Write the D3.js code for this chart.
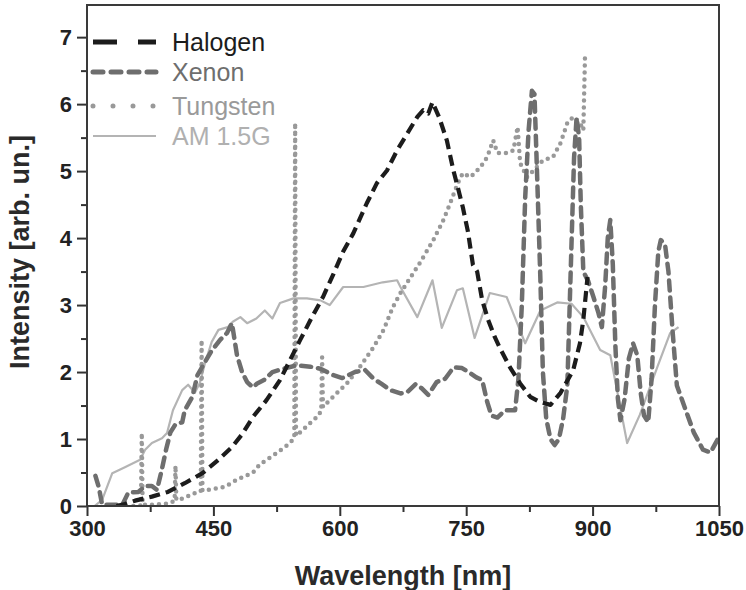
<html lang="en">
<head>
<meta charset="utf-8">
<title>Lamp spectra</title>
<style>
  body { margin: 0; background: #fff; }
  .tick text { font-family: "Liberation Sans", Arial, sans-serif; font-weight: bold; font-size: 22px; fill: #222; }
  .axis-title { font-family: "Liberation Sans", Arial, sans-serif; font-weight: bold; font-size: 27px; fill: #2a2a2a; }
  .legend text { font-family: "Liberation Sans", Arial, sans-serif; font-size: 25px; }
</style>
<script src="https://d3js.org/d3.v7.min.js"></script>
</head>
<body>
<svg id="chart" width="746" height="590"></svg>
<script>

// [wavelength nm, intensity]
var halogen = [[335,0],[345,0.03],[357,0.08],[377,0.14],[396,0.21],[416,0.34],[437,0.49],[456,0.69],[472,0.88],[484,1.07],[497,1.33],[513,1.58],[529,1.88],[541,2.18],[553,2.48],[567,2.82],[580,3.12],[592,3.45],[604,3.8],[616,4.07],[632,4.52],[644,4.82],[656,5.01],[668,5.31],[680,5.56],[692,5.81],[699,5.91],[705,5.86],[710,6.03],[718,5.8],[727,5.46],[735,5.0],[740,4.76],[746,4.46],[752,4.1],[758,3.6],[763,3.5],[769,3.07],[776,2.78],[784,2.52],[790,2.36],[802,2.07],[814,1.83],[826,1.63],[838,1.55],[850,1.51],[858,1.63],[862,1.69],[877,2.03],[885,2.43],[889,2.78],[894,3.42]];

var xenon = [[310,0.45],[314,0.28],[318,0.02],[342,0.02],[349,0.2],[361,0.21],[369,0.3],[377,0.3],[383,0.24],[388,0.5],[394,0.85],[399,1.1],[405,1.22],[413,1.25],[416,1.43],[425,1.63],[431,1.95],[440,2.15],[447,2.3],[458,2.48],[466,2.58],[472,2.73],[478,2.25],[484,2.0],[490,1.85],[497,1.77],[502,1.83],[510,1.88],[520,2.0],[533,2.05],[549,2.1],[565,2.08],[577,2.05],[591,1.96],[603,1.91],[618,2.0],[630,2.03],[640,1.9],[650,1.82],[660,1.73],[672,1.68],[680,1.7],[690,1.82],[697,1.76],[705,1.66],[715,1.85],[725,1.9],[735,2.07],[745,2.06],[755,1.98],[762,1.92],[769,1.88],[775,1.55],[780,1.35],[787,1.32],[796,1.43],[808,1.43],[812,1.9],[816,3.0],[820,4.6],[824,5.6],[828,6.2],[831,6.15],[834,5.0],[838,3.4],[841,2.0],[845,1.3],[850,1.0],[855,0.91],[860,1.0],[865,1.3],[870,1.8],[874,3.5],[878,5.2],[881,5.8],[884,5.5],[886,4.5],[889,3.5],[895,3.35],[901,3.12],[907,2.88],[911,2.67],[915,3.3],[918,4.0],[921,4.27],[924,3.6],[927,2.4],[930,1.6],[933,1.28],[938,1.6],[943,2.2],[948,2.43],[953,2.25],[957,1.7],[961,1.35],[966,1.25],[970,1.9],[974,3.0],[978,3.8],[981,3.97],[986,3.9],[990,3.5],[995,2.6],[1000,1.8],[1010,1.45],[1020,1.1],[1031,0.84],[1040,0.8],[1050,1.03]];

var tungsten = [[355,0],[364,0.01],[365,1.09],[366,0.02],[380,0.02],[398,0.04],[404,0.08],[405,0.6],[406,0.09],[416,0.12],[425,0.18],[435,0.22],[436,2.48],[437,0.23],[449,0.25],[464,0.29],[479,0.4],[497,0.5],[505,0.62],[525,0.79],[541,0.94],[546,1.02],[547,5.72],[548,1.05],[553,1.1],[565,1.24],[573,1.33],[578,1.42],[579,2.22],[580,1.48],[592,1.63],[609,1.84],[624,2.08],[640,2.37],[652,2.63],[663,2.97],[672,3.18],[695,3.63],[711,3.97],[723,4.27],[731,4.52],[740,4.82],[746,4.97],[755,4.91],[767,5.06],[775,5.21],[782,5.46],[787,5.27],[799,5.27],[806,5.31],[811,5.66],[814,5.12],[822,4.91],[830,5.01],[841,5.16],[853,5.21],[862,5.42],[870,5.72],[877,5.81],[885,5.72],[889,5.61],[891,6.73]];

var am15g = [[300,0],[309,0],[318,0.09],[330,0.49],[345,0.58],[363,0.69],[369,0.84],[377,0.94],[389,1.01],[395,1.09],[402,1.43],[413,1.73],[420,1.81],[428,1.69],[434,1.84],[440,2.13],[448,2.45],[456,2.63],[467,2.67],[473,2.75],[482,2.82],[490,2.73],[501,2.8],[511,2.92],[520,2.8],[529,3.03],[545,3.1],[561,3.1],[577,3.07],[588,3.0],[604,3.27],[628,3.27],[651,3.34],[668,3.37],[672,3.27],[692,2.82],[710,3.37],[721,2.66],[739,3.22],[746,3.25],[760,2.51],[778,3.18],[798,3.12],[820,2.43],[838,2.92],[858,3.04],[875,3.02],[889,2.82],[909,2.33],[921,2.25],[941,0.94],[956,1.36],[977,2.08],[992,2.58],[1002,2.67]];

var xTicks = [300, 450, 600, 750, 900, 1050];
var yTicks = [0, 1, 2, 3, 4, 5, 6, 7];
var seriesNames = ["Halogen", "Xenon", "Tungsten", "AM 1.5G"];

// plot box
var margin = {top: 5, right: 27, bottom: 84, left: 87},
    width = 746 - margin.left - margin.right,
    height = 590 - margin.top - margin.bottom;

var svg = d3.select("#chart")
  .append("g")
  .attr("transform", "translate(" + margin.left + "," + margin.top + ")");

var x = d3.scaleLinear().domain([300, 1050]).range([0, width]);
var y = d3.scaleLinear().domain([0, 7.48]).range([height, 0]);

svg.append("clipPath").attr("id", "clip")
  .append("rect").attr("width", width).attr("height", height);

// minor ticks first, majors on top
svg.append("g")
  .attr("transform", "translate(0," + height + ")")
  .call(d3.axisBottom(x).tickValues(d3.range(375, 1050, 150)).tickSize(6).tickFormat(""))
  .call(g => g.select(".domain").remove());
svg.append("g")
  .call(d3.axisLeft(y).tickValues(d3.range(0.5, 7.5, 1)).tickSize(6).tickFormat(""))
  .call(g => g.select(".domain").remove());

svg.append("g")
  .attr("transform", "translate(0," + height + ")")
  .call(d3.axisBottom(x).tickValues(xTicks).tickSize(10).tickPadding(4).tickFormat(d3.format("d")))
  .call(g => g.select(".domain").remove());
svg.append("g")
  .call(d3.axisLeft(y).tickValues(yTicks).tickSize(10).tickPadding(5))
  .call(g => g.select(".domain").remove());

svg.selectAll(".tick line").attr("stroke", "#333").attr("stroke-width", 2);

var styles = [
  {data: halogen,  color: "#1c1c1c", width: 4.2, dash: "11,6",  cap: "butt",  legendDash: "24,21", text: "#1c1c1c"},
  {data: xenon,    color: "#6e6e6e", width: 4.5, dash: "10,7",  cap: "round", legendDash: "10,8",  text: "#6e6e6e"},
  {data: tungsten, color: "#999999", width: 4.5, dash: "0,7",   cap: "round", legendDash: "0,20",  text: "#9a9a9a"},
  {data: am15g,    color: "#b4b4b4", width: 2.2, dash: null,    cap: "butt",  legendDash: null,    text: "#b0b0b0"}
];

var line = d3.line()
  .x(function(d) { return x(d[0]); })
  .y(function(d) { return y(d[1]); });

// draw AM first so the lamps sit on top, halogen last
var plotOrder = [3, 2, 1, 0];
var lines = svg.append("g").attr("clip-path", "url(#clip)");
plotOrder.forEach(function(i) {
  var s = styles[i];
  lines.append("path")
    .datum(s.data)
    .attr("fill", "none")
    .attr("stroke", s.color)
    .attr("stroke-width", s.width)
    .attr("stroke-linecap", s.cap)
    .attr("stroke-linejoin", "round")
    .attr("stroke-dasharray", s.dash)
    .attr("d", line);
});

// frame
svg.append("rect")
  .attr("width", width).attr("height", height)
  .attr("fill", "none").attr("stroke", "#3a3a3a").attr("stroke-width", 2);

// legend
var legend = svg.append("g").attr("class", "legend");
var rowY = [37, 67, 101, 131];
seriesNames.forEach(function(name, i) {
  var s = styles[i];
  legend.append("line")
    .attr("x1", 6).attr("x2", 69)
    .attr("y1", rowY[i]).attr("y2", rowY[i])
    .attr("stroke", s.color)
    .attr("stroke-width", i == 3 ? 2.2 : 5)
    .attr("stroke-linecap", s.cap)
    .attr("stroke-dasharray", s.legendDash);
  legend.append("text")
    .attr("x", 85).attr("y", rowY[i] + 9)
    .attr("fill", s.text)
    .text(name);
});

// axis titles
svg.append("text")
  .attr("class", "axis-title")
  .attr("x", width / 2 + 0).attr("y", height + 79)
  .attr("text-anchor", "middle")
  .text("Wavelength [nm]");

svg.append("text")
  .attr("class", "axis-title")
  .attr("transform", "translate(-58," + (252 - margin.top) + ") rotate(-90)")
  .attr("text-anchor", "middle")
  .text("Intensity [arb. un.]");

</script>
</body>
</html>
